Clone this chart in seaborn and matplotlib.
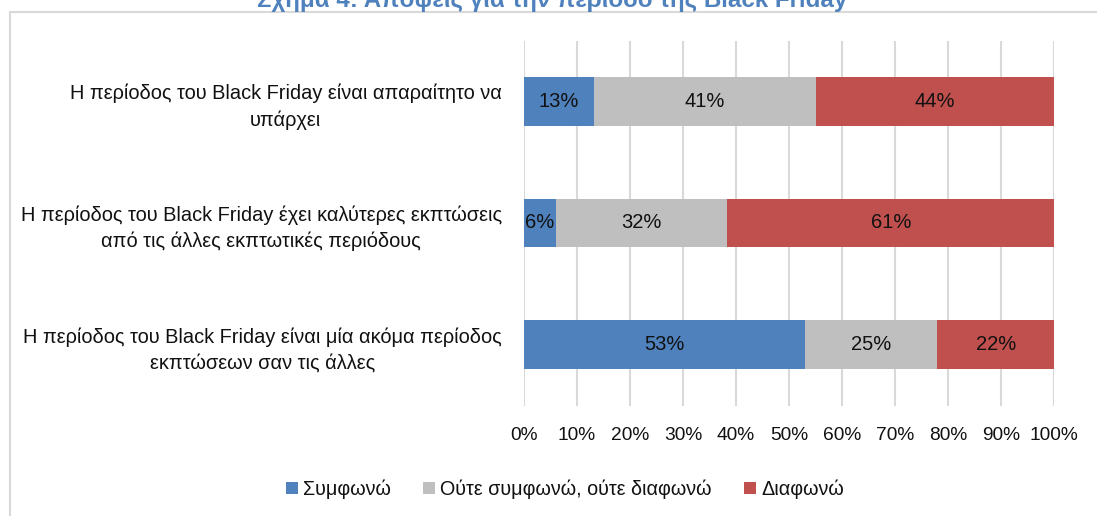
import numpy as np
import pandas as pd
import matplotlib.pyplot as plt
import seaborn as sns
from matplotlib.patches import Patch, Rectangle
from matplotlib.ticker import PercentFormatter

# ============================================================
# Data
# ============================================================

statements = [
    "Η περίοδος του Black Friday είναι απαραίτητο να\nυπάρχει",
    "Η περίοδος του Black Friday έχει καλύτερες εκπτώσεις\nαπό τις άλλες εκπτωτικές περιόδους",
    "Η περίοδος του Black Friday είναι μία ακόμα περίοδος\nεκπτώσεων σαν τις άλλες",
]

agree = [13, 6, 53]
neutral = [41, 32, 25]
disagree = [44, 61, 22]

series_names = ["Συμφωνώ", "Ούτε συμφωνώ, ούτε διαφωνώ", "Διαφωνώ"]
series_colors = ["#4F81BD", "#BFBFBF", "#C0504D"]

title = "Σχήμα 4: Απόψεις για την περίοδο της Black Friday"
x_ticks = list(range(0, 101, 10))

# ============================================================
# Prepare (100% stacked, like Excel)
# ============================================================

df = pd.DataFrame({
    "statement": statements,
    "agree": agree,
    "neutral": neutral,
    "disagree": disagree,
})
total = df[["agree", "neutral", "disagree"]].sum(axis=1)
for col in ["agree", "neutral", "disagree"]:
    df[col + "_share"] = df[col] / total * 100
df["cum_agree"] = df["agree_share"]
df["cum_neutral"] = df["cum_agree"] + df["neutral_share"]
df["cum_disagree"] = df["cum_neutral"] + df["disagree_share"]

# ============================================================
# Plot
# ============================================================

sns.set_theme(style="white")
plt.rcParams["font.family"] = ["Liberation Sans", "DejaVu Sans"]

W, H = 1097, 516
fig = plt.figure(figsize=(W / 100, H / 100), dpi=100)
ax = fig.add_axes([524 / W, 1 - 405.5 / H, 530 / W, 365 / H])

FS_CAT = 14.4
FS_BAR = 14.5
FS_TICK = 13.8
FS_LEG = 14.2

# draw cumulative bars back to front so they look stacked
for cum_col, color in zip(
    ["cum_disagree", "cum_neutral", "cum_agree"],
    series_colors[::-1],
):
    sns.barplot(
        data=df,
        x=cum_col,
        y="statement",
        order=statements,
        orient="h",
        color=color,
        saturation=1,
        width=0.4,
        linewidth=0,
        errorbar=None,
        ax=ax,
    )

# segment labels
for i, row in df.iterrows():
    left = 0
    for col in ["agree", "neutral", "disagree"]:
        w = row[col + "_share"]
        ax.text(
            left + w / 2, i, f"{row[col]}%",
            ha="center", va="center",
            fontsize=FS_BAR, color="#111111",
        )
        left += w

ax.set_xlim(0, 100)
ax.set_ylim(2.5, -0.5)
ax.set_xticks(x_ticks)
ax.xaxis.set_major_formatter(PercentFormatter(decimals=0))
ax.set_xlabel("")
ax.set_ylabel("")

ax.grid(axis="x", color="#D9D9D9", linewidth=1.5)
ax.grid(axis="y", visible=False)
ax.set_axisbelow(True)
for spine in ax.spines.values():
    spine.set_visible(False)

ax.tick_params(axis="x", length=0, pad=15.5, labelsize=FS_TICK, labelcolor="#111111")
ax.tick_params(axis="y", length=0, pad=16, labelsize=FS_CAT, labelcolor="#111111")
for lbl in ax.get_yticklabels():
    lbl.set_multialignment("center")
    lbl.set_linespacing(1.45)

# legend
handles = [Patch(facecolor=c, edgecolor="none", label=n)
           for n, c in zip(series_names, series_colors)]
fig.legend(
    handles=handles,
    loc="center",
    bbox_to_anchor=(565 / W, 1 - 489 / H),
    ncol=3,
    frameon=False,
    fontsize=FS_LEG,
    labelcolor="#111111",
    handlelength=0.6,
    handleheight=0.6,
    handletextpad=0.25,
    columnspacing=1.65,
)

# title (partly cut at the top, as in the source)
fig.text(
    552 / W, 1 - 7 / H, title,
    ha="center", va="baseline",
    fontsize=17.4, fontweight="bold", color="#4F81BD",
)

# chart border
fig.add_artist(Rectangle(
    (9.5 / W, -0.1), 1.2, 1 - 11.5 / H + 0.1,
    transform=fig.transFigure, fill=False,
    edgecolor="#D9D9D9", linewidth=1.5, clip_on=False,
))

fig.savefig("out.png", dpi=100)
plt.close(fig)
